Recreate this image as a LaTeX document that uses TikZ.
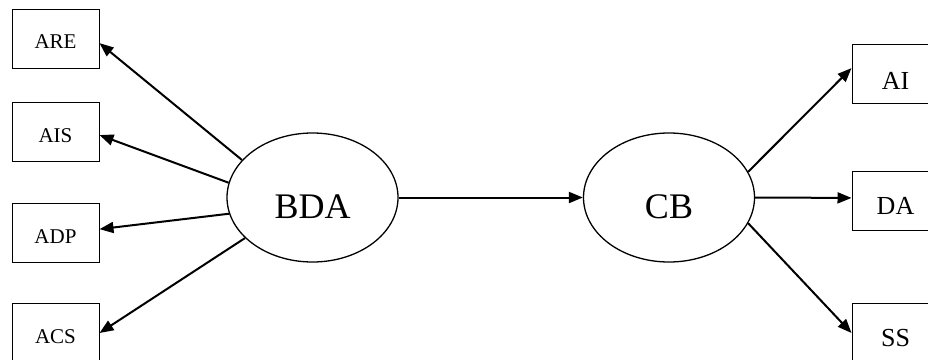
\documentclass[tikz,border=0pt]{standalone}
\usepackage{fontspec}
\setmainfont{Liberation Serif}
\usetikzlibrary{arrows.meta,shapes.geometric}
\begin{document}
\begin{tikzpicture}[x=1pt,y=-1pt,
  smallbox/.style={draw,line width=1pt,minimum width=87pt,minimum height=59pt,inner sep=0pt,text height=20pt,text depth=0pt,font=\fontsize{21}{24}\selectfont},
  bigbox/.style={draw,line width=1pt,minimum width=87pt,minimum height=59pt,inner sep=0pt,text height=26pt,text depth=0pt,font=\fontsize{26}{30}\selectfont},
  oval/.style={draw,ellipse,line width=1.3pt,minimum width=171pt,minimum height=129pt,inner sep=0pt,text height=42pt,text depth=0pt,font=\fontsize{36}{40}\selectfont},
  link/.style={line width=2pt,-{Triangle[length=14pt,width=11pt]}}]
\useasboundingbox (0,0) rectangle (928,359);
\clip (0,0) rectangle (928,359);
\fill[white] (0,0) rectangle (928,359);
\node[smallbox] (are) at (55.5,38.5) {ARE};
\node[smallbox] (ais) at (55.5,132) {AIS};
\node[smallbox] (adp) at (55.5,233) {ADP};
\node[smallbox] (acs) at (55.5,333) {ACS};
\node[oval] (bda) at (312.5,197.5) {BDA};
\node[oval] (cb) at (669,197.5) {CB};
\node[bigbox,text height=32pt] (ai) at (895.5,73.5) {AI};
\node[bigbox] (da) at (895.5,201) {DA};
\node[bigbox] (ss) at (895.5,333) {SS};
\draw[link] (bda.152) -- (are.-6);
\draw[link] (bda.170) -- (ais.-4);
\draw[link] (bda.191) -- (adp.5);
\draw[link] (bda.211) -- (acs.east);
\draw[link] (bda.east) -- (cb.west);
\draw[link] (cb.18) -- (ai.173);
\draw[link] (cb.east) -- (da.176);
\draw[link] (cb.-18) -- (ss.west);
\end{tikzpicture}
\end{document}
